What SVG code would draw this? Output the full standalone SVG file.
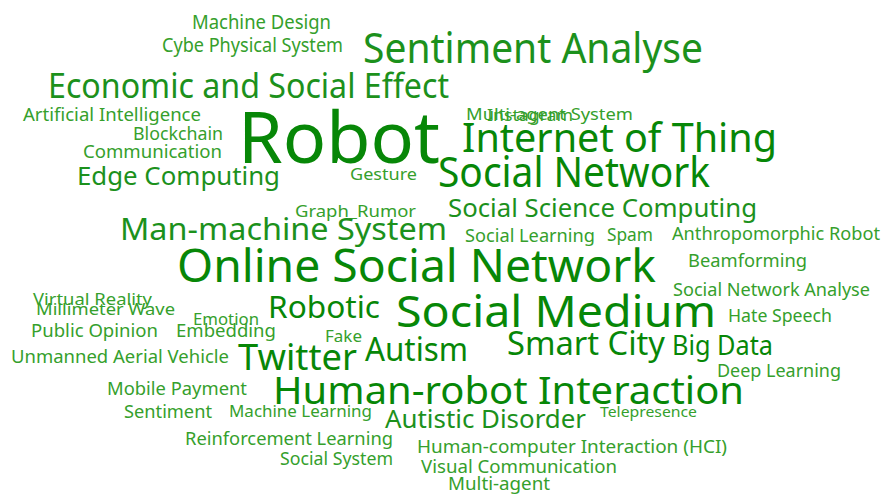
<svg xmlns="http://www.w3.org/2000/svg" width="882" height="497" viewBox="0 0 882 497">
<style>
text{font-family:"Noto Sans","Open Sans","DejaVu Sans",sans-serif;}
.d{fill:#078707}
.m{fill:#1c911c}
.l{fill:#35a02c}
</style>
<rect width="882" height="497" fill="#ffffff"/>
<g id="words" lengthAdjust="spacingAndGlyphs">
<text class="l" x="192" y="29" font-size="19" textLength="139" lengthAdjust="spacingAndGlyphs">Machine Design</text>
<text class="l" x="162" y="52" font-size="19" textLength="181" lengthAdjust="spacingAndGlyphs">Cybe Physical System</text>
<text class="m" x="363" y="63" font-size="41" textLength="340" lengthAdjust="spacingAndGlyphs">Sentiment Analyse</text>
<text class="m" x="48" y="98" font-size="35" textLength="401" lengthAdjust="spacingAndGlyphs">Economic and Social Effect</text>
<text class="l" x="23" y="121" font-size="18" textLength="178" lengthAdjust="spacingAndGlyphs">Artificial Intelligence</text>
<text class="l" x="133" y="140" font-size="18" textLength="90" lengthAdjust="spacingAndGlyphs">Blockchain</text>
<text class="l" x="83" y="158" font-size="18" textLength="139" lengthAdjust="spacingAndGlyphs">Communication</text>
<text class="m" x="77" y="185" font-size="25" textLength="203" lengthAdjust="spacingAndGlyphs">Edge Computing</text>
<text class="d" x="238" y="163" font-size="71" textLength="202" lengthAdjust="spacingAndGlyphs">Robot</text>
<text class="l" x="350" y="180" font-size="17" textLength="67" lengthAdjust="spacingAndGlyphs">Gesture</text>
<text class="l" x="466" y="120" font-size="17" textLength="167" lengthAdjust="spacingAndGlyphs">Multi-agent System</text>
<text class="l" x="487" y="121" font-size="17" textLength="86" lengthAdjust="spacingAndGlyphs">Instagram</text>
<text class="d" x="462" y="152" font-size="40" textLength="315" lengthAdjust="spacingAndGlyphs">Internet of Thing</text>
<text class="d" x="438" y="187" font-size="42" textLength="272" lengthAdjust="spacingAndGlyphs">Social Network</text>
<text class="m" x="448" y="217" font-size="26" textLength="309" lengthAdjust="spacingAndGlyphs">Social Science Computing</text>
<text class="l" x="295" y="217" font-size="17" textLength="121" lengthAdjust="spacingAndGlyphs">Graph_Rumor</text>
<text class="m" x="120" y="240" font-size="30" textLength="327" lengthAdjust="spacingAndGlyphs">Man-machine System</text>
<text class="l" x="465" y="242" font-size="18" textLength="130" lengthAdjust="spacingAndGlyphs">Social Learning</text>
<text class="l" x="607" y="241" font-size="18" textLength="46" lengthAdjust="spacingAndGlyphs">Spam</text>
<text class="l" x="672" y="240" font-size="18" textLength="208" lengthAdjust="spacingAndGlyphs">Anthropomorphic Robot</text>
<text class="d" x="177" y="282" font-size="45" textLength="479" lengthAdjust="spacingAndGlyphs">Online Social Network</text>
<text class="l" x="688" y="267" font-size="18" textLength="119" lengthAdjust="spacingAndGlyphs">Beamforming</text>
<text class="l" x="673" y="296" font-size="18" textLength="197" lengthAdjust="spacingAndGlyphs">Social Network Analyse</text>
<text class="l" x="33" y="305" font-size="17" textLength="119" lengthAdjust="spacingAndGlyphs">Virtual Reality</text>
<text class="l" x="36" y="315" font-size="17" textLength="139" lengthAdjust="spacingAndGlyphs">Millimeter Wave</text>
<text class="d" x="268" y="318" font-size="31" textLength="112" lengthAdjust="spacingAndGlyphs">Robotic</text>
<text class="d" x="396" y="327" font-size="43" textLength="320" lengthAdjust="spacingAndGlyphs">Social Medium</text>
<text class="l" x="728" y="322" font-size="18" textLength="104" lengthAdjust="spacingAndGlyphs">Hate Speech</text>
<text class="l" x="193" y="325" font-size="17" textLength="66" lengthAdjust="spacingAndGlyphs">Emotion</text>
<text class="l" x="31" y="337" font-size="18" textLength="127" lengthAdjust="spacingAndGlyphs">Public Opinion</text>
<text class="l" x="176" y="337" font-size="18" textLength="100" lengthAdjust="spacingAndGlyphs">Embedding</text>
<text class="l" x="325" y="342" font-size="17" textLength="37" lengthAdjust="spacingAndGlyphs">Fake</text>
<text class="l" x="11" y="363" font-size="18" textLength="218" lengthAdjust="spacingAndGlyphs">Unmanned Aerial Vehicle</text>
<text class="d" x="238" y="370" font-size="37" textLength="119" lengthAdjust="spacingAndGlyphs">Twitter</text>
<text class="d" x="365" y="361" font-size="32" textLength="103" lengthAdjust="spacingAndGlyphs">Autism</text>
<text class="d" x="507" y="355" font-size="32" textLength="158" lengthAdjust="spacingAndGlyphs">Smart City</text>
<text class="d" x="672" y="355" font-size="27" textLength="101" lengthAdjust="spacingAndGlyphs">Big Data</text>
<text class="l" x="717" y="377" font-size="18" textLength="124" lengthAdjust="spacingAndGlyphs">Deep Learning</text>
<text class="l" x="107" y="395" font-size="18" textLength="140" lengthAdjust="spacingAndGlyphs">Mobile Payment</text>
<text class="d" x="273" y="404" font-size="38" textLength="471" lengthAdjust="spacingAndGlyphs">Human-robot Interaction</text>
<text class="l" x="124" y="418" font-size="18" textLength="88" lengthAdjust="spacingAndGlyphs">Sentiment</text>
<text class="l" x="229" y="417" font-size="16" textLength="143" lengthAdjust="spacingAndGlyphs">Machine Learning</text>
<text class="m" x="385" y="428" font-size="26" textLength="201" lengthAdjust="spacingAndGlyphs">Autistic Disorder</text>
<text class="l" x="600" y="417" font-size="15" textLength="97" lengthAdjust="spacingAndGlyphs">Telepresence</text>
<text class="l" x="185" y="445" font-size="18" textLength="208" lengthAdjust="spacingAndGlyphs">Reinforcement Learning</text>
<text class="l" x="417" y="453" font-size="18" textLength="310" lengthAdjust="spacingAndGlyphs">Human-computer Interaction (HCI)</text>
<text class="l" x="280" y="465" font-size="18" textLength="113" lengthAdjust="spacingAndGlyphs">Social System</text>
<text class="l" x="421" y="473" font-size="18" textLength="196" lengthAdjust="spacingAndGlyphs">Visual Communication</text>
<text class="l" x="448" y="490" font-size="18" textLength="102" lengthAdjust="spacingAndGlyphs">Multi-agent</text>
</g>
</svg>
